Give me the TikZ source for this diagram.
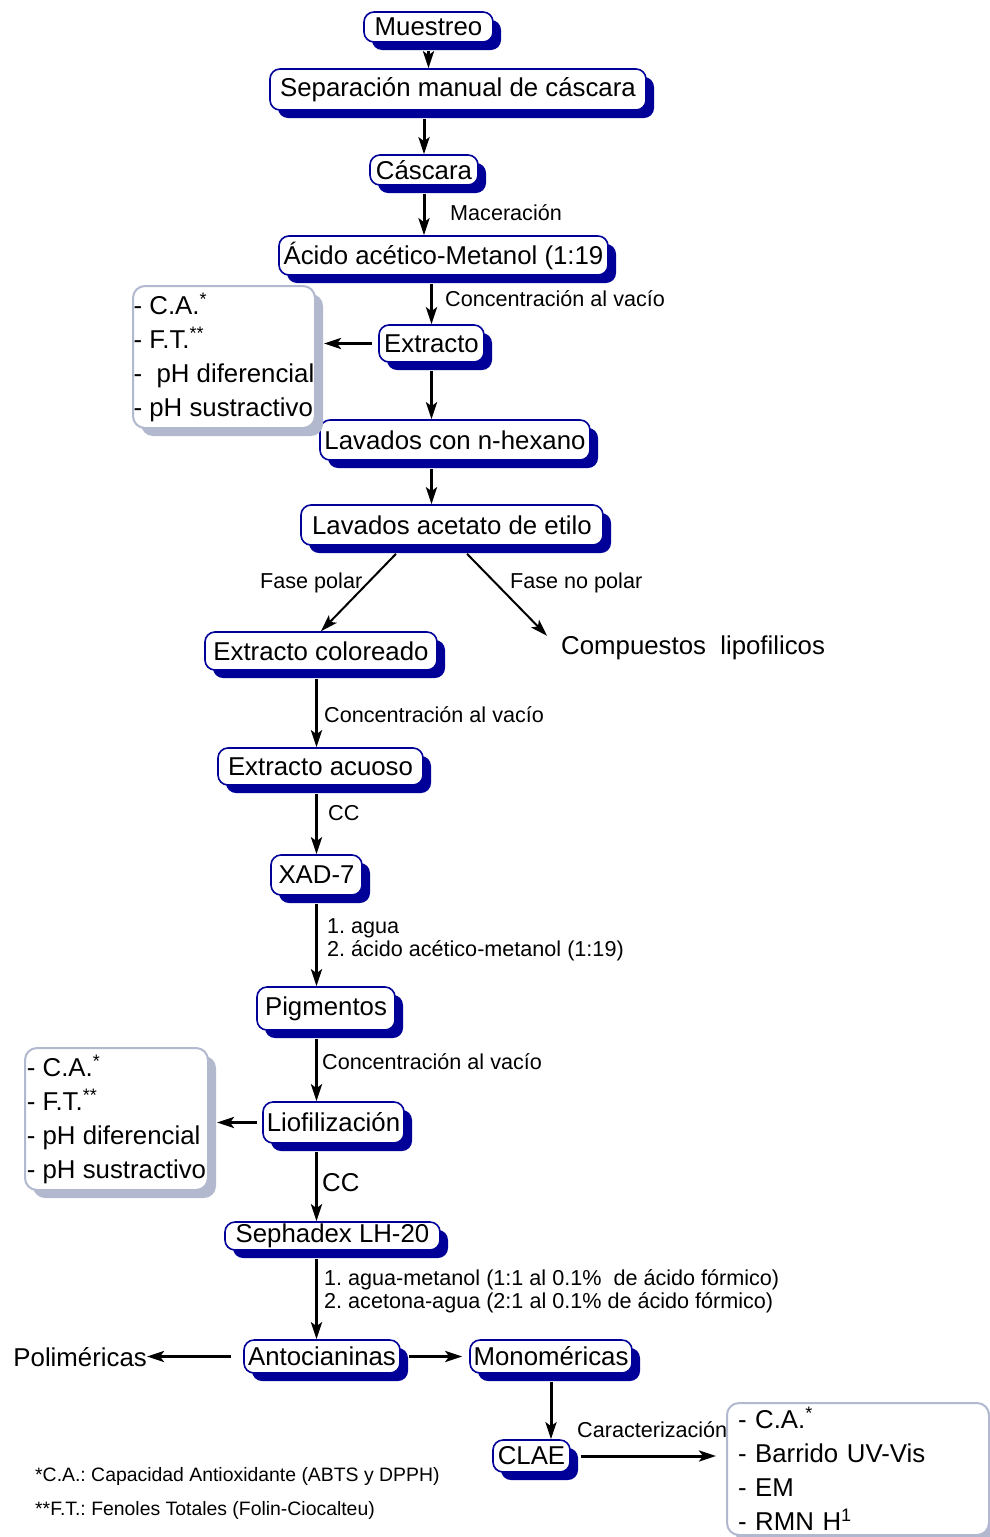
\documentclass[tikz,border=0pt]{standalone}
\usepackage{fontspec}
\setmainfont{Liberation Sans}
\usepackage{tikz}
\usetikzlibrary{arrows.meta,shadows}
\definecolor{navy}{RGB}{0, 0, 153}
\definecolor{greyblue}{RGB}{178, 185, 207}
\frenchspacing

\begin{document}
\begin{tikzpicture}[x = 1pt, y = -1pt,
  every node/.style = {font = \fontsize{25.8}{34}\selectfont},
  paso/.style = {draw = navy, line width = 1.6pt, fill = white, rounded corners = 10pt, inner sep = 0pt,
    drop shadow = {shadow xshift = 8pt, shadow yshift = -8pt, fill = navy, opacity = 1}},
  lista/.style = {draw = greyblue, line width = 2pt, fill = white, rounded corners = 12pt, inner sep = 0pt, align = left,
    drop shadow = {shadow xshift = 8pt, shadow yshift = -8pt, fill = greyblue, opacity = 1}},
  etiq/.style = {anchor = west, inner sep = 0pt, align = left, font = \fontsize{21.6}{23}\selectfont},
  nota/.style = {anchor = west, inner sep = 0pt, font = \fontsize{19.4}{23}\selectfont},
  flecha/.style = {line width = 3pt, -{Stealth[length = 17pt, width = 11pt, inset = 4pt]}}]
\useasboundingbox (0,0) rectangle (990,1537);

\node[paso, minimum width = 129pt, minimum height = 30pt] (muestreo) at (428.5,27) {Muestreo};
\node[paso, minimum width = 376pt, minimum height = 41pt] (separacion) at (458,89.5) {Separación manual de cáscara};
\node[paso, minimum width = 108pt, minimum height = 30pt] (cascara) at (424,170) {Cáscara};
\node[paso, minimum width = 329pt, minimum height = 39pt] (acido) at (443.5,255.5) {Ácido acético-Metanol (1:19};
\node[paso, minimum width = 105pt, minimum height = 37pt] (extracto) at (431.5,343.5) {Extracto};
\node[paso, minimum width = 270pt, minimum height = 40pt] (hexano) at (455,440) {Lavados con n-hexano};
\node[paso, minimum width = 302pt, minimum height = 40pt] (acetato) at (452,525) {Lavados acetato de etilo};
\node[paso, minimum width = 232pt, minimum height = 38pt] (coloreado) at (321,651) {Extracto coloreado};
\node[paso, minimum width = 205pt, minimum height = 37pt] (acuoso) at (320.5,766.5) {Extracto acuoso};
\node[paso, minimum width = 91pt, minimum height = 40pt] (xad) at (316.5,875) {XAD-7};
\node[paso, minimum width = 138pt, minimum height = 43pt] (pigmentos) at (326,1008.5) {Pigmentos};
\node[paso, minimum width = 141pt, minimum height = 41pt] (liofilizacion) at (333.5,1122.5) {Liofilización};
\node[paso, minimum width = 215pt, minimum height = 28pt] (sephadex) at (332.5,1236) {Sephadex LH-20};
\node[paso, minimum width = 156pt, minimum height = 33pt] (antocianinas) at (322,1356.5) {Antocianinas};
\node[paso, minimum width = 162pt, minimum height = 33pt] (monomericas) at (551,1356.5) {Monoméricas};
\node[paso, minimum width = 77pt, minimum height = 32pt] (clae) at (531.5,1456) {CLAE};

\node[lista, minimum width = 182pt, minimum height = 142pt] (ensayos1) at (224,357)
  {- C.A.\textsuperscript{*}\\- F.T.\textsuperscript{**}\\-\ \ pH diferencial\\- pH sustractivo};
\node[lista, minimum width = 183pt, minimum height = 142pt] (ensayos2) at (116.5,1119)
  {- C.A.\textsuperscript{*}\\- F.T.\textsuperscript{**}\\- pH diferencial\\- pH sustractivo};
\node[lista, text width = 240pt, inner xsep = 11pt, minimum height = 132pt] (ensayos3) at (858,1469)
  {- C.A.\textsuperscript{*}\\- Barrido UV-Vis\\- EM\\- RMN H\textsuperscript{1}};

\node[anchor = west, inner sep = 0pt] (compuestos) at (561,648) {Compuestos\ \ lipofilicos};
\node[anchor = east, inner sep = 0pt] (polimericas) at (147,1357) {Poliméricas};

\node[etiq] (lmaceracion) at (450,213) {Maceración};
\node[etiq] (lvacio1) at (445,299) {Concentración al vacío};
\node[etiq] (lpolar) at (260,583) {Fase polar};
\node[etiq] (lnopolar) at (510,583) {Fase no polar};
\node[etiq] (lvacio2) at (324,715) {Concentración al vacío};
\node[etiq] (lcc1) at (328,813) {CC};
\node[etiq] (leluyente1) at (327,939.5) {1. agua\\2. ácido acético-metanol (1:19)};
\node[etiq] (lvacio3) at (322,1062) {Concentración al vacío};
\node[etiq, font = \fontsize{25.8}{34}\selectfont] (lcc2) at (322,1183) {CC};
\node[etiq] (leluyente2) at (324,1291.5) {1. agua-metanol (1:1 al 0.1\%\ \ de ácido fórmico)\\2. acetona-agua (2:1 al 0.1\% de ácido fórmico)};
\node[etiq] (lcaract) at (577,1430) {Caracterización};
\node[nota] (nota1) at (35,1476) {*C.A.: Capacidad Antioxidante (ABTS y DPPH)};
\node[nota] (nota2) at (35,1510) {**F.T.: Fenoles Totales (Folin-Ciocalteu)};

\draw[flecha, shorten <= 8pt] (muestreo.south) -- (muestreo.south |- separacion.north);
\draw[flecha, shorten <= 8pt] (cascara.north |- separacion.south) -- (cascara.north);
\draw[flecha, shorten <= 8pt] (cascara.south) -- (cascara.south |- acido.north);
\draw[flecha, shorten <= 8pt] (extracto.north |- acido.south) -- (extracto.north);
\draw[flecha, shorten <= 8pt] (extracto.south) -- (extracto.south |- hexano.north);
\draw[flecha, shorten <= 8pt] (extracto.south |- hexano.south) -- (extracto.south |- acetato.north);
\draw[flecha, line width = 2pt] ([shift = {(-56,8)}]acetato.south) -- (coloreado.north);
\draw[flecha, line width = 2pt] ([shift = {(15,8)}]acetato.south) -- ([shift = {(-14,0)}]compuestos.north west);
\draw[flecha, shorten <= 8pt] (xad.north |- coloreado.south) -- (xad.north |- acuoso.north);
\draw[flecha, shorten <= 8pt] (xad.north |- acuoso.south) -- (xad.north);
\draw[flecha, shorten <= 8pt] (xad.south) -- (xad.south |- pigmentos.north);
\draw[flecha, shorten <= 8pt] (xad.south |- pigmentos.south) -- (xad.south |- liofilizacion.north);
\draw[flecha, shorten <= 8pt] (xad.south |- liofilizacion.south) -- (xad.south |- sephadex.north);
\draw[flecha, shorten <= 8pt] (xad.south |- sephadex.south) -- (xad.south |- antocianinas.north);
\draw[flecha, shorten <= 6pt, shorten >= 8pt] (extracto.west) -- (extracto.west -| ensayos1.east);
\draw[flecha, shorten <= 5pt, shorten >= 8pt] (liofilizacion.west) -- (liofilizacion.west -| ensayos2.east);
\draw[flecha, shorten <= 12pt] (antocianinas.west) -- (antocianinas.west -| polimericas.east);
\draw[flecha, shorten <= 8pt, shorten >= 7pt] (antocianinas.east) -- (antocianinas.east -| monomericas.west);
\draw[flecha, shorten <= 8pt] (monomericas.south) -- (monomericas.south |- clae.north);
\draw[flecha, shorten <= 10pt, shorten >= 10pt] (clae.east) -- (clae.east -| ensayos3.west);
\end{tikzpicture}
\end{document}
